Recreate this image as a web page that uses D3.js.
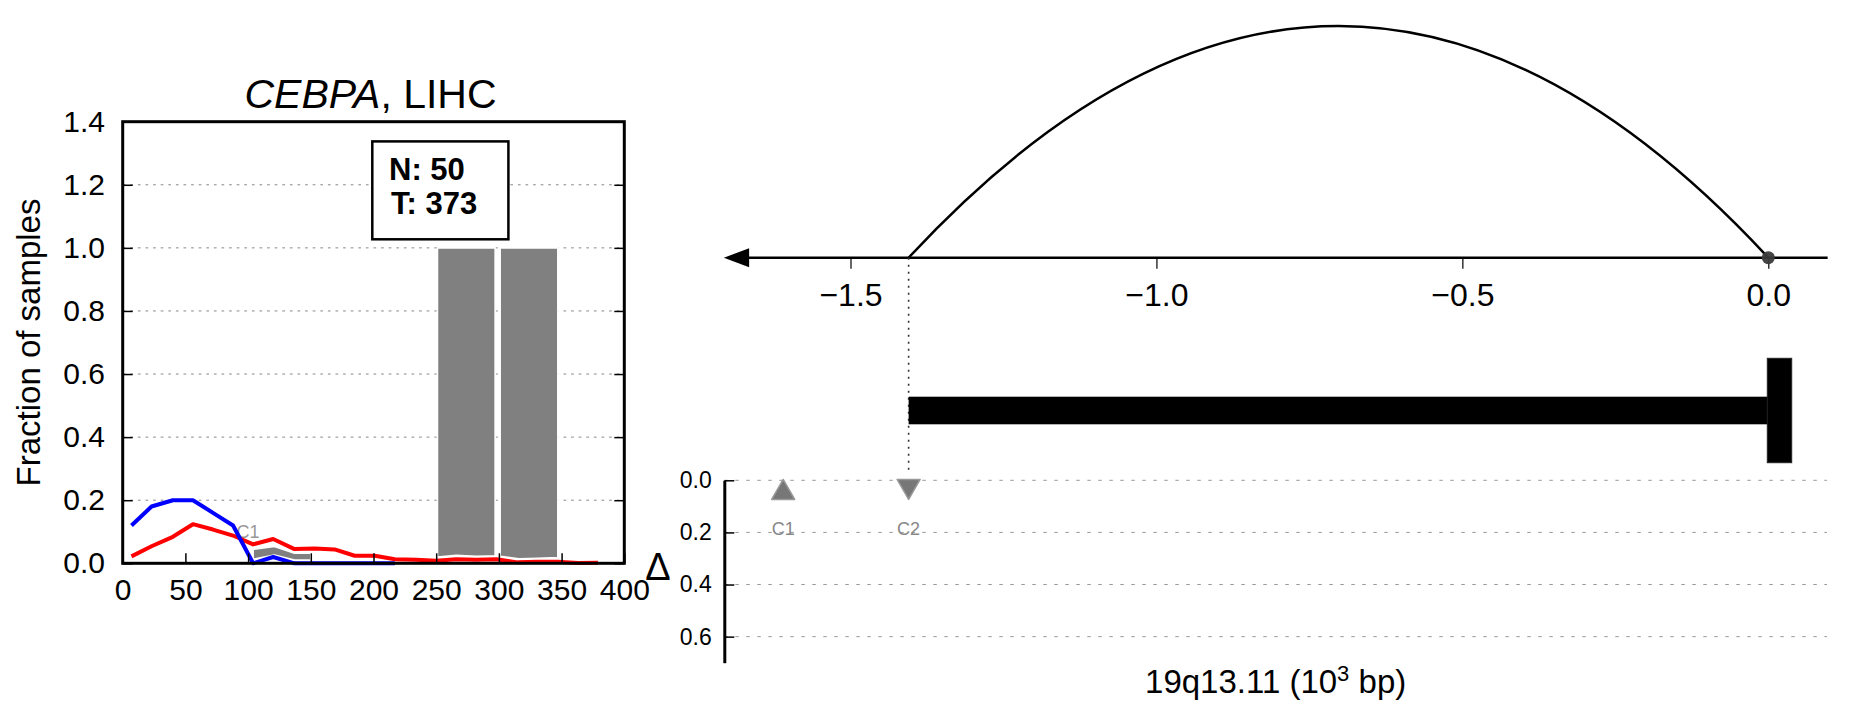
<!DOCTYPE html>
<html><head><meta charset="utf-8">
<script src="https://cdn.jsdelivr.net/npm/d3@7"></script>
<style>
body{margin:0;background:#fff;}
svg text{font-family:"Liberation Sans",Arial,Helvetica,sans-serif;}
</style>
</head><body>
<svg id="c" width="1851" height="718"></svg>
<script>
// ---------------- DATA ----------------
const geneName = "CEBPA";
const cancerType = "LIHC";
const nNormal = 50;
const nTumor = 373;
const binCenters = [7,23,40,56,72,88,104,120,137,153,169,185,201,217,234,250,266,282,298,315,331,347,363,379];
const normalFrac = [0.12,0.18,0.20,0.20,0.16,0.12,0.00,0.02,0.00,0.00,0.00,0.00,0.00,0.00];
const tumorFrac  = [0.022,0.054,0.084,0.124,0.107,0.088,0.060,0.077,0.045,0.047,0.044,0.024,0.024,0.013,0.011,0.008,0.013,0.011,0.013,0.003,0.005,0.005,0.001,0.002];
const bandC1X     = [104,121,137,150];
const bandC1Upper = [0.044,0.053,0.032,0.032];
const bandC1Lower = [0.013,0.026,0.010,0.010];
const barAX     = [251,266,282,297];
const barAUpper = [1.0,1.0,1.0,1.0];
const barALower = [0.020,0.025,0.022,0.024];
const barBX     = [301,316,331,347];
const barBUpper = [1.0,1.0,1.0,1.0];
const barBLower = [0.022,0.014,0.016,0.018];
const leftXTicks = [0,50,100,150,200,250,300,350,400];
const leftYTicks = [0,0.2,0.4,0.6,0.8,1.0,1.2,1.4];
const leftGrid   = [0.2,0.4,0.6,0.8,1.0,1.2];
const c1LabelPos = [100,0.08];

const posTicks = [-1.5,-1.0,-0.5,0.0];
const axisExtent = [-1.707,0.097];
const tssPos = 0.0;
const loopFrom = -1.405, loopTo = 0.0;
const geneFrom = -1.405, geneTo = 0.0;
const clusterNames = ["C1","C2"];
const clusterPos   = [-1.61,-1.405];
const clusterDelta = [0.035,0.035];
const clusterDir   = ["up","down"];
const clusterLabelDelta = 0.21;
const deltaTicks = [0.0,0.2,0.4,0.6];
const deltaDomain = [0,0.7];
const xAxisLabel = ["19q13.11 (10","3"," bp)"];

// ---------------- DRAW ----------------
const svg = d3.select("#c");
const FONT = '"Liberation Sans",Arial,Helvetica,sans-serif';
const fmt = d3.format(".1f");

// ===== Left chart =====
const xL = d3.scaleLinear().domain([0,400]).range([122.7,624.3]);
const yL = d3.scaleLinear().domain([0,1.4]).range([563.3,121.7]);

svg.append("g").selectAll("line").data(leftGrid).join("line")
  .attr("x1",xL(0)).attr("x2",xL(400)).attr("y1",d=>yL(d)).attr("y2",d=>yL(d))
  .attr("stroke","#888").attr("stroke-width",1).attr("stroke-dasharray","2.7,4.9");

function band(xs,lo,hi){ return xs.map((x,i)=>({x:x,lo:lo[i],hi:hi[i]})); }
const area = d3.area().x(d=>xL(d.x)).y0(d=>yL(d.lo)).y1(d=>yL(d.hi));
[band(barAX,barALower,barAUpper),band(barBX,barBLower,barBUpper),band(bandC1X,bandC1Lower,bandC1Upper)]
  .forEach(b=>{
    svg.append("path").attr("d",area(b)).attr("fill","#808080")
      .attr("stroke","#fff").attr("stroke-width",1.6).attr("stroke-linejoin","round");
  });

svg.append("text").attr("x",xL(c1LabelPos[0])).attr("y",yL(c1LabelPos[1]))
  .attr("text-anchor","middle").attr("font-size",18).attr("fill","#999").text("C1");

const lineL = d3.line().x((d,i)=>xL(binCenters[i])).y(d=>yL(d));
svg.append("path").attr("d",lineL(tumorFrac)).attr("fill","none")
  .attr("stroke","#ff0000").attr("stroke-width",4).attr("stroke-linejoin","round");
svg.append("path").attr("d",lineL(normalFrac)).attr("fill","none")
  .attr("stroke","#0000ff").attr("stroke-width",4).attr("stroke-linejoin","round");

// axes
const gxL = svg.append("g").attr("transform",`translate(0,${yL(0)})`)
  .call(d3.axisBottom(xL).tickValues(leftXTicks).tickFormat(d3.format("d")).tickSize(-10).tickSizeOuter(0).tickPadding(15.5));
gxL.select(".domain").remove();
gxL.attr("font-size",30).attr("font-family",FONT);
gxL.selectAll("line").attr("stroke-width",1.5);

const gyL = svg.append("g").attr("transform",`translate(${xL(0)},0)`)
  .call(d3.axisLeft(yL).tickValues(leftYTicks).tickFormat(fmt).tickSize(-10).tickSizeOuter(0).tickPadding(17.7));
gyL.select(".domain").remove();
gyL.attr("font-size",30).attr("font-family",FONT);
gyL.selectAll("line").attr("stroke-width",1.5);

const gyR = svg.append("g").attr("transform",`translate(${xL(400)},0)`)
  .call(d3.axisRight(yL).tickValues(leftYTicks).tickFormat("").tickSize(-10).tickSizeOuter(0));
gyR.select(".domain").remove();
gyR.selectAll("line").attr("stroke-width",1.5);

svg.append("rect").attr("x",xL(0)).attr("y",yL(1.4)).attr("width",xL(400)-xL(0)).attr("height",yL(0)-yL(1.4))
  .attr("fill","none").attr("stroke","#000").attr("stroke-width",3);

// N/T box
svg.append("rect").attr("x",372.3).attr("y",141.4).attr("width",136.1).attr("height",97.9)
  .attr("fill","#fff").attr("stroke","#000").attr("stroke-width",2.5);
svg.append("text").attr("x",389).attr("y",179.6).attr("font-size",31).attr("font-weight","bold").text(`N: ${nNormal}`);
svg.append("text").attr("x",391).attr("y",214.3).attr("font-size",31).attr("font-weight","bold").text(`T: ${nTumor}`);

// title
const tt = svg.append("text").attr("x",(xL(0)+xL(400))/2 - 3).attr("y",108).attr("text-anchor","middle").attr("font-size",41);
tt.append("tspan").attr("font-style","italic").text(geneName);
tt.append("tspan").text(", " + cancerType);

// y label
svg.append("text").attr("transform",`translate(40,${(yL(0)+yL(1.4))/2}) rotate(-90)`)
  .attr("text-anchor","middle").attr("font-size",33).text("Fraction of samples");

// ===== Right chart =====
const xR = d3.scaleLinear().domain([-1.5,0]).range([850.5,1768.3]);
const axisY = 257.7;
const loopHeight = 231.7;

// loop arc
const x0 = xR(loopFrom), x1 = xR(loopTo);
svg.append("path")
  .attr("d",`M${x0},${axisY} Q${(x0+x1)/2},${axisY-2*loopHeight} ${x1},${axisY}`)
  .attr("fill","none").attr("stroke","#000").attr("stroke-width",2.5);

// axis line + arrow
const arrowLen = 25.3, arrowHalf = 9.5;
svg.append("line").attr("x1",xR(axisExtent[0])+arrowLen-1).attr("x2",xR(axisExtent[1]))
  .attr("y1",axisY).attr("y2",axisY).attr("stroke","#000").attr("stroke-width",2.5);
const ax0 = xR(axisExtent[0]);
svg.append("path").attr("d",`M${ax0},${axisY} L${ax0+arrowLen},${axisY-arrowHalf} L${ax0+arrowLen},${axisY+arrowHalf} Z`)
  .attr("fill","#000");

const gxR = svg.append("g").attr("transform",`translate(0,${axisY})`)
  .call(d3.axisBottom(xR).tickValues(posTicks).tickFormat(fmt).tickSize(11).tickSizeOuter(0).tickPadding(15));
gxR.select(".domain").remove();
gxR.attr("font-size",32).attr("font-family",FONT);
gxR.selectAll("line").attr("stroke-width",1.2);

// TSS dot
svg.append("circle").attr("cx",xR(tssPos)).attr("cy",axisY).attr("r",6.5).attr("fill","#3c3c3c").attr("opacity",0.95);

// dotted guide
svg.append("line").attr("x1",xR(loopFrom)).attr("x2",xR(loopFrom)).attr("y1",axisY).attr("y2",471.7)
  .attr("stroke","#333").attr("stroke-width",1.6).attr("stroke-dasharray","2,5");

// gene bar (inhibition T)
const barMid = 410.5, barH = 27.6, capW = 24.4, capH = 104.4;
svg.append("rect").attr("x",xR(geneFrom)).attr("y",barMid-barH/2).attr("width",xR(geneTo)-xR(geneFrom)).attr("height",barH)
  .attr("fill","#000");
svg.append("rect").attr("x",xR(geneTo)-1).attr("y",barMid-capH/2).attr("width",capW).attr("height",capH)
  .attr("fill","#000").attr("stroke","#222").attr("stroke-width",1);

// lower delta panel
const yD = d3.scaleLinear().domain(deltaDomain).range([480.3,662.7]);
const axX = 724.3, gridEnd = 1827;
svg.append("g").selectAll("line").data(deltaTicks).join("line")
  .attr("x1",axX).attr("x2",gridEnd).attr("y1",d=>yD(d)).attr("y2",d=>yD(d))
  .attr("stroke","#999").attr("stroke-width",1).attr("stroke-dasharray","3.5,7.5");

const gyD = svg.append("g").attr("transform",`translate(${axX},0)`)
  .call(d3.axisLeft(yD).tickValues(deltaTicks).tickFormat(fmt).tickSize(-10).tickSizeOuter(0).tickPadding(12.6));
gyD.select(".domain").attr("stroke-width",3);
gyD.attr("font-size",23).attr("font-family",FONT);
gyD.selectAll("line").attr("stroke-width",1.5);

// cluster markers
const triW = 23, triH = 20;
clusterNames.forEach((n,i)=>{
  const cx = xR(clusterPos[i]), cy = yD(clusterDelta[i]);
  const d = clusterDir[i]==="up"
    ? `M${cx},${cy-triH/2} L${cx+triW/2},${cy+triH/2} L${cx-triW/2},${cy+triH/2} Z`
    : `M${cx},${cy+triH/2} L${cx+triW/2},${cy-triH/2} L${cx-triW/2},${cy-triH/2} Z`;
  svg.append("path").attr("d",d).attr("fill","#707070").attr("fill-opacity",0.95)
    .attr("stroke","#999").attr("stroke-width",1.5).attr("stroke-linejoin","round");
  svg.append("text").attr("x",cx).attr("y",yD(clusterLabelDelta)).attr("text-anchor","middle")
    .attr("font-size",18).attr("fill","#888").text(n);
});

// Δ label
svg.append("text").attr("x",658).attr("y",580).attr("text-anchor","middle").attr("font-size",38).text("Δ");

// x label
const xl = svg.append("text").attr("x",(axX+gridEnd)/2).attr("y",692.7).attr("text-anchor","middle").attr("font-size",33);
xl.append("tspan").text(xAxisLabel[0]);
xl.append("tspan").attr("font-size",22).attr("dy",-12).text(xAxisLabel[1]);
xl.append("tspan").attr("dy",12).text(xAxisLabel[2]);
</script>
</body></html>
